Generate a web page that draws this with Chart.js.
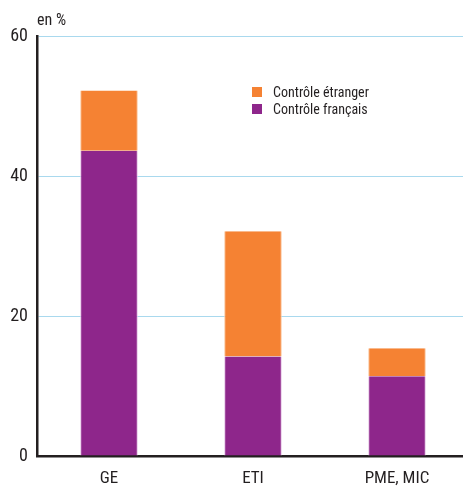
<!DOCTYPE html>
<html>
<head>
<meta charset="utf-8">
<script src="https://cdn.jsdelivr.net/npm/chart.js@4/dist/chart.umd.min.js"></script>
<style>
  html, body { margin: 0; padding: 0; background: #fff; overflow: hidden; }
  #wrap { width: 469px; height: 486px; }
</style>
</head>
<body>
<div id="wrap"><canvas id="c" width="469" height="486"></canvas></div>
<script>
// Part des entreprises, par catégorie et par contrôle (en %)
const categories = ['GE', 'ETI', 'PME, MIC'];
const controleFrancais = [43.6, 14.2, 11.4];
const controleEtranger = [8.6, 17.9, 4.0];
const yTicks = [0, 20, 40, 60];

const FONT = '"Liberation Sans Narrow", "Roboto Condensed", Roboto, sans-serif';
const TEXT = '#231f20';

// Titre d'unité au-dessus de l'axe vertical
const unitLabel = {
  id: 'unitLabel',
  afterDraw(chart) {
    const ctx = chart.ctx;
    ctx.save();
    ctx.font = '16px ' + FONT;
    ctx.fillStyle = TEXT;
    ctx.textBaseline = 'alphabetic';
    ctx.textAlign = 'left';
    ctx.fillText('en %', chart.chartArea.left, 25);
    ctx.restore();
  }
};

// Légende placée dans la zone du graphique
const innerLegend = {
  id: 'innerLegend',
  afterDraw(chart) {
    const ctx = chart.ctx;
    const items = chart.data.datasets.slice().reverse();
    const x = 252, y0 = 87, step = 17, box = 10;
    ctx.save();
    ctx.font = '14px ' + FONT;
    ctx.textBaseline = 'middle';
    ctx.textAlign = 'left';
    items.forEach((ds, i) => {
      const y = y0 + i * step;
      ctx.fillStyle = ds.backgroundColor;
      ctx.fillRect(x, y, box, box);
      ctx.fillStyle = TEXT;
      ctx.fillText(ds.label, x + 21, y + box / 2 + 1);
    });
    ctx.restore();
  }
};

new Chart(document.getElementById('c'), {
  type: 'bar',
  data: {
    labels: categories,
    datasets: [
      {
        label: 'Contrôle français',
        data: controleFrancais,
        backgroundColor: '#8e268b',
        borderColor: '#e3c2e4',
        borderWidth: { left: 1, right: 1, top: 0, bottom: 0 },
        borderSkipped: false
      },
      {
        label: 'Contrôle étranger',
        data: controleEtranger,
        backgroundColor: '#f58233',
        borderColor: '#fbc9a2',
        borderWidth: { left: 1, right: 1, top: 0, bottom: 0 },
        borderSkipped: false
      }
    ]
  },
  options: {
    responsive: false,
    animation: false,
    layout: { padding: { top: 36, right: 0, left: 0, bottom: 0 } },
    categoryPercentage: 1,
    barPercentage: 0.4,
    plugins: {
      legend: { display: false },
      tooltip: { enabled: false }
    },
    scales: {
      x: {
        stacked: true,
        afterFit(scale) { scale.height = 30; },
        grid: { display: false, drawTicks: false },
        border: { display: true, color: '#231f20', width: 2.5 },
        ticks: { color: TEXT, font: { family: FONT, size: 17 }, padding: 13 }
      },
      y: {
        stacked: true,
        min: 0,
        max: 60,
        afterFit(scale) { scale.width = 37; },
        afterBuildTicks(scale) { scale.ticks = yTicks.map(v => ({ value: v })); },
        grid: {
          drawTicks: false,
          color: ctx => (ctx.tick && ctx.tick.value === 0) ? 'rgba(0,0,0,0)' : '#a9d9ee',
          lineWidth: 1
        },
        border: { display: true, color: '#231f20', width: 2.5 },
        ticks: { color: TEXT, font: { family: FONT, size: 18 }, padding: 9 }
      }
    }
  },
  plugins: [unitLabel, innerLegend]
});
</script>
</body>
</html>
